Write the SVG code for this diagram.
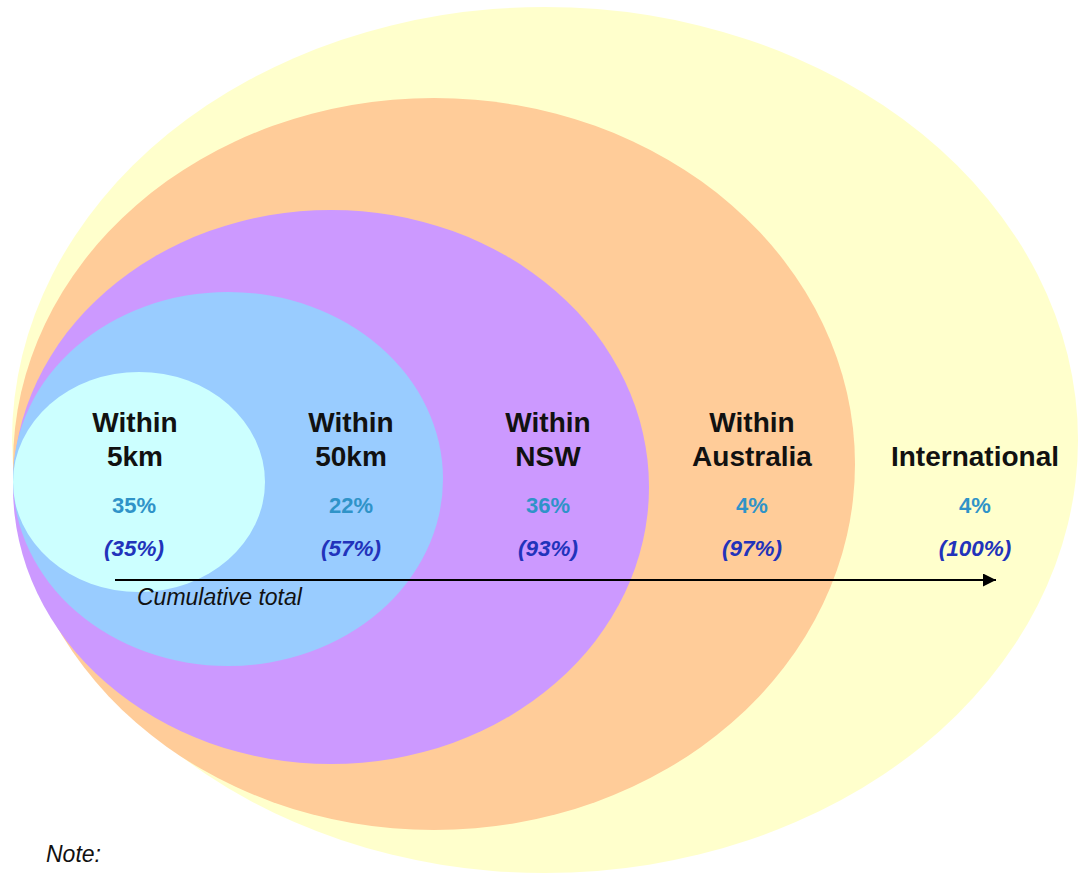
<svg xmlns="http://www.w3.org/2000/svg" width="1081" height="875" viewBox="0 0 1081 875">
  <style>
    .lbl { font-family: "Liberation Sans", Arial, sans-serif; font-weight: bold; font-size: 28px; fill: #111111; text-anchor: middle; }
    .pct { font-family: "Liberation Sans", Arial, sans-serif; font-weight: bold; font-size: 22px; fill: #2F93C8; text-anchor: middle; }
    .cum { font-family: "Liberation Sans", Arial, sans-serif; font-weight: bold; font-style: italic; font-size: 22.5px; fill: #2233BB; text-anchor: middle; }
    .note { font-family: "Liberation Sans", Arial, sans-serif; font-style: italic; font-size: 23px; fill: #111111; }
  </style>
  <defs>
    <marker id="arrow" viewBox="0 0 10 10" refX="10" refY="5" markerWidth="6.5" markerHeight="6.5" markerUnits="strokeWidth" orient="auto">
      <path d="M0,0 L10,5 L0,10 Z" fill="#000000"/>
    </marker>
  </defs>
  <rect width="1081" height="875" fill="#FFFFFF"/>

  <g id="international">
    <ellipse cx="545" cy="440" rx="533" ry="433" fill="#FFFFCC"/>
    <text class="lbl" x="975" y="466">International</text>
    <text class="pct" x="975" y="513">4%</text>
    <text class="cum" x="975" y="556">(100%)</text>
  </g>
  <g id="within-australia">
    <ellipse cx="434" cy="464" rx="421" ry="366" fill="#FFCC99"/>
    <text class="lbl" x="752" y="432">Within</text>
    <text class="lbl" x="752" y="466">Australia</text>
    <text class="pct" x="752" y="513">4%</text>
    <text class="cum" x="752" y="556">(97%)</text>
  </g>
  <g id="within-nsw">
    <ellipse cx="331" cy="487" rx="318" ry="277" fill="#CC99FF"/>
    <text class="lbl" x="548" y="432">Within</text>
    <text class="lbl" x="548" y="466">NSW</text>
    <text class="pct" x="548" y="513">36%</text>
    <text class="cum" x="548" y="556">(93%)</text>
  </g>
  <g id="within-50km">
    <ellipse cx="228" cy="479" rx="215" ry="187" fill="#99CCFF"/>
    <text class="lbl" x="351" y="432">Within</text>
    <text class="lbl" x="351" y="466">50km</text>
    <text class="pct" x="351" y="513">22%</text>
    <text class="cum" x="351" y="556">(57%)</text>
  </g>
  <g id="within-5km">
    <ellipse cx="139" cy="482" rx="126" ry="110" fill="#CCFFFF"/>
    <text class="lbl" x="135" y="432">Within</text>
    <text class="lbl" x="135" y="466">5km</text>
    <text class="pct" x="134" y="513">35%</text>
    <text class="cum" x="134" y="556">(35%)</text>
  </g>

  <g id="connectors">
    <line x1="115" y1="580" x2="996" y2="580" stroke="#000000" stroke-width="2" marker-end="url(#arrow)"/>
    <text class="note" x="137" y="605" font-size="22.5">Cumulative total</text>
  </g>

  <text class="note" x="46" y="862" font-size="24">Note:</text>
</svg>
